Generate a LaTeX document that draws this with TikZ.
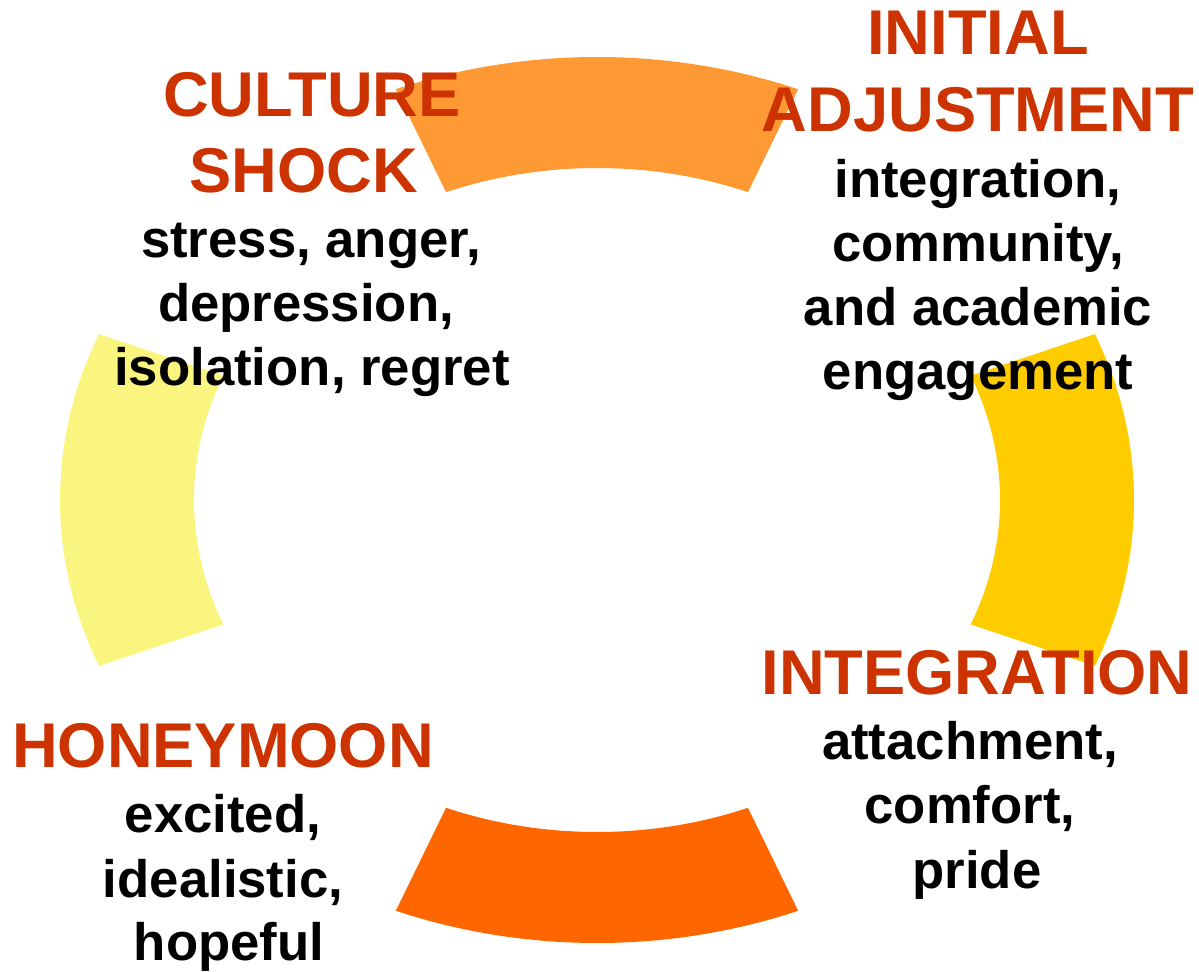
\documentclass[tikz,border=0pt]{standalone}
\usepackage{fontspec}
\setmainfont{Liberation Sans}
\usetikzlibrary{calc}
\definecolor{segtop}{HTML}{FF9933}
\definecolor{segright}{HTML}{FFCC00}
\definecolor{segbottom}{HTML}{FF6600}
\definecolor{segleft}{HTML}{F9F57F}
\definecolor{titlered}{HTML}{CC3300}
\begin{document}
\begin{tikzpicture}[x=0.02cm,y=0.02cm,
  title/.style={font=\fontsize{36}{43}\selectfont\bfseries, text=titlered, anchor=base, inner sep=0pt},
  body/.style={font=\fontsize{30}{36}\selectfont\bfseries, text=black, anchor=base, inner sep=0pt}]
\useasboundingbox (0,0) rectangle (1199,971);
\coordinate (c) at (597,471);
% ring segments (scaled circle: outer 537x443, inner 403x332)
\foreach \a/\col in {90/segtop, 0/segright, 270/segbottom, 180/segleft}{
  \fill[\col] ([shift={(\a-22:537 and 443)}]c)
    arc[start angle=\a-22, end angle=\a+22, x radius=537, y radius=443]
    -- ([shift={(\a+22:403 and 332)}]c)
    arc[start angle=\a+22, end angle=\a-22, x radius=403, y radius=332]
    -- cycle;
}
% CULTURE SHOCK
\node[title] (cs1) at (312,854) {CULTURE};
\node[title] (cs2) at (304,778) {SHOCK};
\node[body] (cs3) at (311,713) {stress, anger,};
\node[body] (cs4) at (306,649) {depression,};
\node[body] (cs5) at (312,585) {isolation, regret};
% INITIAL ADJUSTMENT
\node[title] (ia1) at (978,916) {INITIAL};
\node[title] (ia2) at (978,839) {ADJUSTMENT};
\node[body] (ia3) at (978,773) {integration,};
\node[body] (ia4) at (978,709) {community,};
\node[body] (ia5) at (978,645) {and academic};
\node[body] (ia6) at (978,581) {engagement};
% INTEGRATION
\node[title] (in1) at (977,277) {INTEGRATION};
\node[body] (in2) at (970,212) {attachment,};
\node[body] (in3) at (970,148) {comfort,};
\node[body] (in4) at (977,83) {pride};
% HONEYMOON
\node[title] (hm1) at (223,204) {HONEYMOON};
\node[body] (hm2) at (223,139) {excited,};
\node[body] (hm3) at (223,74) {idealistic,};
\node[body] (hm4) at (229,11) {hopeful};
\end{tikzpicture}
\end{document}
